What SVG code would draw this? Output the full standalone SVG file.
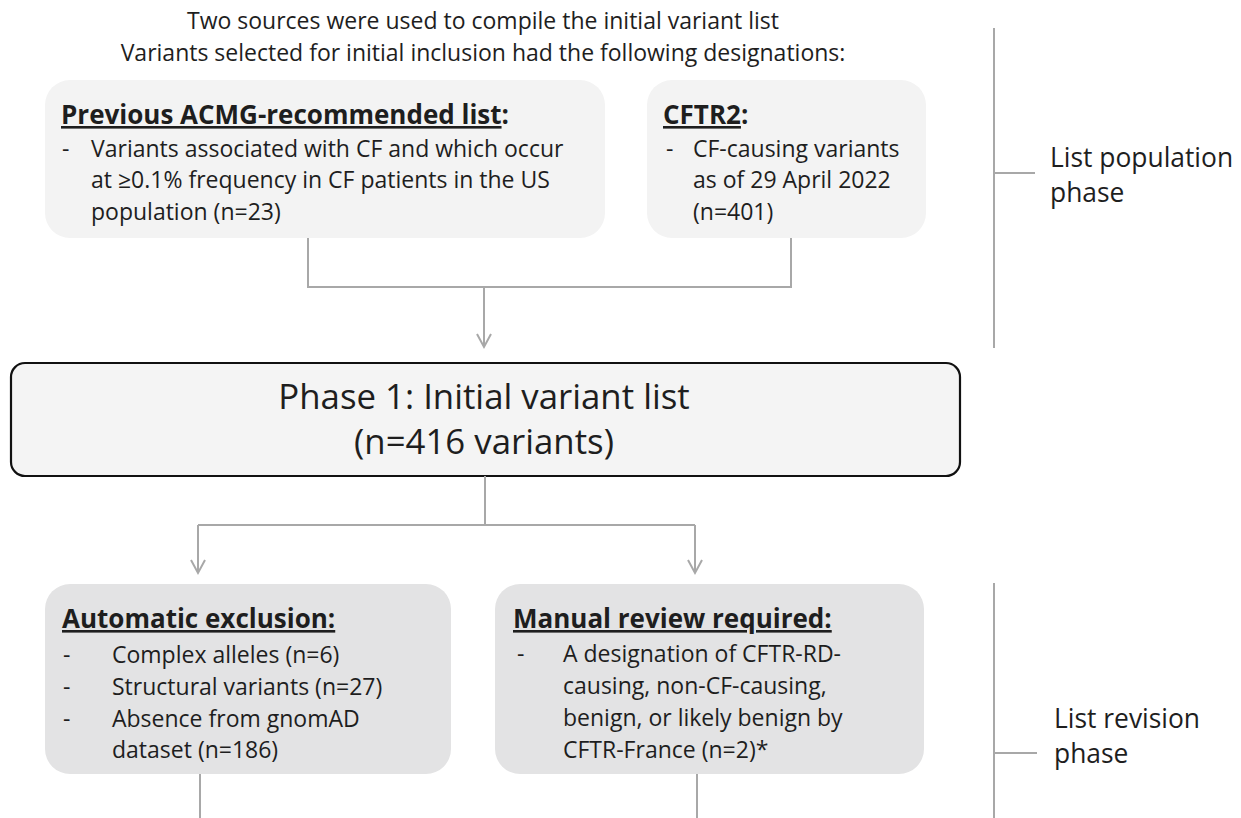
<svg xmlns="http://www.w3.org/2000/svg" width="1241" height="818" viewBox="0 0 1241 818">
<style>
text{font-family:"Open Sans","Noto Sans","Liberation Sans",sans-serif;fill:#1e1e1e}
.t{font-size:23px}
.b{font-size:26px;font-weight:bold}
.u{text-decoration:underline}
.side{font-size:26.4px}
.ph{font-size:34.8px;font-weight:normal}
.lt{fill:#f3f3f3}
.dk{fill:#e3e3e4}
.c{fill:none;stroke:#a8a8a8;stroke-width:2}
</style>
<defs>
<marker id="arr" markerUnits="userSpaceOnUse" markerWidth="18" markerHeight="18" refX="14" refY="8" orient="auto" viewBox="0 0 18 16">
<path d="M1,1 L14,8 L1,15" fill="none" stroke="#a8a8a8" stroke-width="2"/>
</marker>
</defs>
<g id="heading">
<text class="t" x="483" y="29" text-anchor="middle">Two sources were used to compile the initial variant list</text>
<text class="t" x="483" y="61" text-anchor="middle">Variants selected for initial inclusion had the following designations:</text>
</g>
<g id="acmg">
<rect class="lt" x="45" y="80" width="560" height="158" rx="25"/>
<text class="b" x="61" y="124"><tspan class="u">Previous ACMG-recommended list</tspan>:</text>
<text class="t" x="62" y="157">-</text>
<text class="t" x="91" y="157">Variants associated with CF and which occur</text>
<text class="t" x="91" y="188">at ≥0.1% frequency in CF patients in the US</text>
<text class="t" x="91" y="220">population (n=23)</text>
</g>
<g id="cftr2">
<rect class="lt" x="647" y="80" width="279" height="158" rx="25"/>
<text class="b" x="663" y="124"><tspan class="u">CFTR2</tspan>:</text>
<text class="t" x="666" y="157">-</text>
<text class="t" x="693" y="157">CF-causing variants</text>
<text class="t" x="693" y="188">as of 29 April 2022</text>
<text class="t" x="693" y="220">(n=401)</text>
</g>
<g id="phase1">
<rect x="11" y="363" width="949" height="113" rx="14" fill="#f4f4f4" stroke="#111" stroke-width="2.2"/>
<text class="ph" x="484" y="409" text-anchor="middle">Phase 1: Initial variant list</text>
<text class="ph" x="484" y="454" text-anchor="middle">(n=416 variants)</text>
</g>
<g id="auto">
<rect class="dk" x="45" y="584" width="406" height="190" rx="25"/>
<text class="b u" x="62" y="628">Automatic exclusion:</text>
<text class="t" x="63" y="663">-</text>
<text class="t" x="63" y="695">-</text>
<text class="t" x="63" y="727">-</text>
<text class="t" x="112" y="663">Complex alleles (n=6)</text>
<text class="t" x="112" y="695">Structural variants (n=27)</text>
<text class="t" x="112" y="727">Absence from gnomAD</text>
<text class="t" x="112" y="758">dataset (n=186)</text>
</g>
<g id="manual">
<rect class="dk" x="495" y="584" width="429" height="190" rx="25"/>
<text class="b u" x="513" y="628">Manual review required:</text>
<text class="t" x="517" y="662">-</text>
<text class="t" x="563" y="662">A designation of CFTR-RD-</text>
<text class="t" x="563" y="694">causing, non-CF-causing,</text>
<text class="t" x="563" y="726">benign, or likely benign by</text>
<text class="t" x="563" y="758">CFTR-France (n=2)*</text>
</g>
<g id="pop-phase">
<path class="c" d="M994,28 V348 M994,173 H1035"/>
<text class="side" x="1050" y="167">List population</text>
<text class="side" x="1050" y="202">phase</text>
</g>
<g id="rev-phase">
<path class="c" d="M994,583 V818 M994,753 H1037"/>
<text class="side" x="1054" y="728">List revision</text>
<text class="side" x="1054" y="763">phase</text>
</g>
<g id="connectors">
<path class="c" d="M308,238 V287 H791 V238"/>
<path class="c" d="M484,287 V347" marker-end="url(#arr)"/>
<path class="c" d="M485,476 V525 M198,525 H695"/>
<path class="c" d="M198,525 V573" marker-end="url(#arr)"/>
<path class="c" d="M695,525 V573" marker-end="url(#arr)"/>
<path class="c" d="M200,774 V818 M697,774 V818"/>
</g>
</svg>
